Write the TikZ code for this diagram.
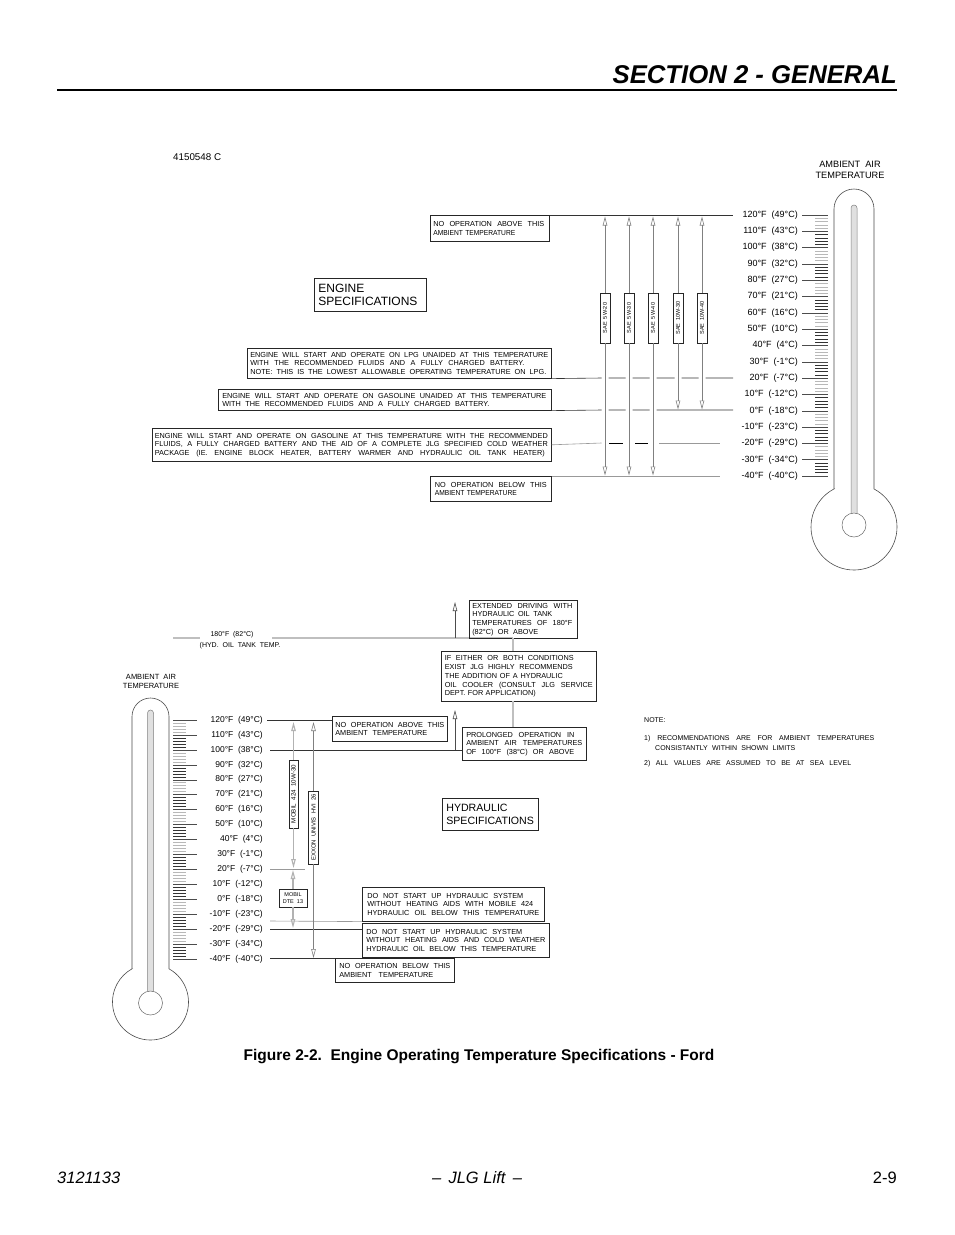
\documentclass[tikz,border=0pt]{standalone}
\usepackage{fontspec}
\setmainfont{Liberation Sans}
\usepackage{graphicx}
\usetikzlibrary{arrows.meta}
\newcommand\fl[2]{\leavevmode\setbox0=\hbox{#2}\ifdim\wd0>#1\relax\resizebox{#1}{\height}{#2}\else\hbox to #1{\spaceskip=.28em plus 1fil\relax\xspaceskip=\spaceskip #2}\fi}
\begin{document}
\begin{tikzpicture}[x=1pt,y=-1pt,
 box/.style={draw=black!85,line width=0.6pt,inner ysep=0pt,anchor=north west,align=left,font=\fontsize{7.3}{8.6}\selectfont},
 big/.style={draw=black!85,line width=0.7pt,inner ysep=0pt,anchor=north west,align=left},
 tl/.style={anchor=east,inner sep=0pt,font=\fontsize{9}{10}\selectfont},
 bl/.style={anchor=east,inner sep=0pt,font=\fontsize{8.5}{10}\selectfont},
 vlab/.style={draw=black!85,line width=0.5pt,fill=white,rotate=90,inner sep=0pt,font=\fontsize{5.5}{6}\selectfont},
 tip/.style={draw=black!50,line width=0.6pt,-{Triangle[open,length=9pt,width=4.5pt]}},
 hl/.style={draw=black!80,line width=0.6pt},
 gl/.style={draw=black!40,line width=0.6pt},
 gl2/.style={draw=black!25,line width=1.2pt},
 therm/.style={draw=black!70,line width=0.6pt},
 nt/.style={anchor=west,inner sep=0pt,font=\fontsize{7}{8}\selectfont},
 sm/.style={inner sep=0pt,font=\fontsize{7}{8}\selectfont},
]
\fill[white] (0,0) rectangle (954,1235);
\useasboundingbox (0,0) rectangle (954,1235);

% ---------- header / footer ----------
\node[anchor=east,inner sep=0pt,font=\fontsize{25.7}{27}\selectfont\bfseries\itshape] (hdr) at (897,75) {SECTION 2 - GENERAL};
\draw[line width=1.2pt] (57,90) -- (897,90);
\node[anchor=west,inner sep=0pt,font=\fontsize{16.5}{18}\selectfont\itshape] (f1) at (57,1178) {3121133};
\node[inner sep=0pt,font=\fontsize{16.5}{18}\selectfont\itshape] (f2) at (477,1178) {–\ \,JLG Lift\ \,–};
\node[anchor=east,inner sep=0pt,font=\fontsize{16.5}{18}\selectfont] (f3) at (897,1178) {2-9};
\node[inner sep=0pt,font=\fontsize{15.5}{17}\selectfont\bfseries] (cap) at (479,1057) {Figure 2-2.\ \ Engine Operating Temperature Specifications - Ford};

\node[anchor=west,inner sep=0pt,font=\fontsize{9.8}{11}\selectfont] (id) at (173,157) {4150548 C};

% ---------- top thermometer ----------
\node[align=center,inner sep=0pt,font=\fontsize{9.2}{11.5}\selectfont] (amb1) at (850,170) {AMBIENT\ \ AIR\\TEMPERATURE};
\draw[therm] (834,488.93) -- (834,209) arc[start angle=180,end angle=360,radius=20] -- (874,488.93) arc[start angle=-62.29,end angle=242.29,radius=43] -- cycle;
\filldraw[fill=black!12,draw=black!50,line width=0.5pt] (851,513.4) -- (851,208) arc[start angle=180,end angle=360,radius=3] -- (857,513.4) -- cycle;
\filldraw[fill=white,draw=black!60,line width=0.5pt] (854,525) circle[radius=12];

% ---------- bottom thermometer ----------
\node[align=center,inner sep=0pt,font=\fontsize{7.5}{9}\selectfont] (amb2) at (151,681) {AMBIENT\ \ AIR\\TEMPERATURE};
\draw[therm] (132,968.81) -- (132,716.5) arc[start angle=180,end angle=360,radius=18.5] -- (169,968.81) arc[start angle=-60.87,end angle=240.87,radius=38] -- cycle;
\filldraw[fill=black!12,draw=black!50,line width=0.5pt] (147.5,991.4) -- (147.5,713) arc[start angle=180,end angle=360,radius=3] -- (153.5,991.4) -- cycle;
\filldraw[fill=white,draw=black!60,line width=0.5pt] (150.5,1003) circle[radius=12];

% ticks
\foreach \T in {-40,-38,...,120}{
  \pgfmathtruncatemacro\band{floor((\T+39)/10)}
  \pgfmathsetmacro\yy{215+(120-\T)*1.63125}
  \pgfmathsetmacro\yb{720+(120-\T)*1.49375}
  \ifodd\band \def\cc{black!28}\else\def\cc{black!80}\fi
  \draw[\cc,line width=0.5pt] (815,\yy) -- (828,\yy);
  \draw[\cc,line width=0.5pt] (173,\yb) -- (186,\yb);
}
% labels
\foreach \T/\C [count=\i] in {120/49,110/43,100/38,90/32,80/27,70/21,60/16,50/10,40/4,30/-1,20/-7,10/-12,0/-18,-10/-23,-20/-29,-30/-34,-40/-40}{
  \pgfmathsetmacro\yy{215+(120-\T)*1.63125}
  \pgfmathsetmacro\yb{720+(120-\T)*1.49375}
  \node[tl] (ta\i) at (798,\yy) {\T°F\ \ (\C°C)};
  \draw[therm,line width=0.5pt] (ta\i.east) ++(4,0) -- (828,\yy);
  \node[bl] (tb\i) at (263,\yb) {\T°F\ \ (\C°C)};
  \draw[therm,line width=0.5pt] (173,\yb) -- (197,\yb);
}

% ---------- engine section ----------
\node[box,inner xsep=3pt,text width=113pt,minimum height=26pt] (noabove) at (430,215)
  {\fl{111pt}{NO OPERATION ABOVE THIS}\\\fl{82pt}{AMBIENT TEMPERATURE}};
\node[big,inner xsep=4pt,text width=104pt,minimum height=33pt,font=\fontsize{12}{13}\selectfont] (eng) at (314,278)
  {ENGINE\\SPECIFICATIONS};
\node[box,inner xsep=3pt,text width=298pt,minimum height=30pt] (lpg) at (247,348)
  {\fl{298pt}{ENGINE WILL START AND OPERATE ON LPG UNAIDED AT THIS TEMPERATURE}\\
   \fl{274pt}{WITH THE RECOMMENDED FLUIDS AND A FULLY CHARGED BATTERY.}\\
   \fl{296pt}{NOTE: THIS IS THE LOWEST ALLOWABLE OPERATING TEMPERATURE ON LPG.}};
\node[box,inner xsep=4pt,text width=325pt,minimum height=21pt] (gasu) at (218,389)
  {\fl{324pt}{ENGINE WILL START AND OPERATE ON GASOLINE UNAIDED AT THIS TEMPERATURE}\\
   \fl{267pt}{WITH THE RECOMMENDED FLUIDS AND A FULLY CHARGED BATTERY.}};
\node[box,inner xsep=2.5pt,text width=394pt,minimum height=33pt] (cold) at (152,428)
  {\fl{393pt}{ENGINE WILL START AND OPERATE ON GASOLINE AT THIS TEMPERATURE WITH THE RECOMMENDED}\\
   \fl{393pt}{FLUIDS, A FULLY CHARGED BATTERY AND THE AID OF A COMPLETE JLG SPECIFIED COLD WEATHER}\\
   \fl{390pt}{PACKAGE (IE. ENGINE BLOCK HEATER, BATTERY WARMER AND HYDRAULIC OIL TANK HEATER)}};
\node[box,inner xsep=4.5pt,text width=112pt,minimum height=25pt] (nobelow) at (430,476)
  {\fl{112pt}{NO OPERATION BELOW THIS}\\\fl{82pt}{AMBIENT TEMPERATURE}};

% horizontal limit lines (broken where the arrows cross)
\draw[hl] (noabove.north east) -- (733,215);
\draw[hl] (lpg.south east) -- (601.5,378) (608.5,378) -- (625.5,378) (632.5,378) -- (649.5,378)
  (656.5,378) -- (674.5,378) (681.5,378) -- (698.5,378) (705.5,378) -- (733,378);
\draw[hl] (gasu.south east) -- (601.5,410) (608.5,410) -- (625.5,410) (632.5,410) -- (649.5,410) (656.5,410) -- (733,410);
\draw[gl] (cold.east) -- (601.5,443);
\draw[black,line width=1pt] (609,443) -- (623,443) (635,443) -- (648,443);
\draw[gl] (659,443) -- (720,443);
\draw[gl] (nobelow.north east) -- (720,476);

% oil grade arrows
\foreach \x/\t/\b [count=\i] in {605/SAE\ \ 5W-20/476,629/SAE\ \ 5W-30/476,653/SAE\ \ 5W-40/476,678/SAE\ \ 10W-30/410,702/SAE\ \ 10W-40/410}{
  \node[vlab,minimum width=50pt,minimum height=10pt] (sae\i) at (\x,318) {\t};
  \draw[tip] (sae\i.east) -- (\x,216.5);
  \draw[tip] (sae\i.west) -- (\x,\b-0.5);
}

% ---------- hydraulic section ----------
\draw[gl2] (173,638) -- (200,638);
\node[sm] (h1) at (232,635) {180°F\ \ (82°C)};
\node[sm] (h2) at (240,646) {(HYD.\ \ OIL\ \ TANK\ \ TEMP.};
\draw[gl2] (272,638) -- (513,638);
\node[box,inner xsep=3pt,text width=102pt,minimum height=38pt] (ext) at (469,600)
  {\fl{100pt}{EXTENDED DRIVING WITH}\\\fl{80pt}{HYDRAULIC OIL TANK}\\\fl{100pt}{TEMPERATURES OF 180°F}\\\fl{66pt}{(82°C) OR ABOVE}};
\draw[tip,draw=black!70] (455,638) -- (455,602);
\node[box,inner xsep=3.5pt,text width=148pt,minimum height=50pt,font=\fontsize{7.3}{8.9}\selectfont] (ife) at (441,651)
  {\fl{129pt}{IF EITHER OR BOTH CONDITIONS}\\\fl{128pt}{EXIST JLG HIGHLY RECOMMENDS}\\\fl{118pt}{THE ADDITION OF A HYDRAULIC}\\\fl{148pt}{OIL COOLER (CONSULT JLG SERVICE}\\\fl{91pt}{DEPT. FOR APPLICATION)}};
\draw[gl2] (513,638) -- (513,651);
\node[box,inner xsep=4pt,text width=116pt,minimum height=33pt] (prol) at (462,727)
  {\fl{108pt}{PROLONGED OPERATION IN}\\\fl{116pt}{AMBIENT AIR TEMPERATURES}\\\fl{108pt}{OF 100°F (38°C) OR ABOVE}};
\draw[gl2] (513,701) -- (513,727);
\node[box,inner xsep=3pt,text width=109pt,minimum height=25pt] (noab2) at (332,716)
  {\fl{109pt}{NO OPERATION ABOVE THIS}\\\fl{92pt}{AMBIENT TEMPERATURE}};
\draw[hl] (267,720) -- (332,720);
\draw[hl] (270,750) -- (prol.west |- 0,750);
\draw[tip,draw=black!70] (455,750) -- (455,710);
\node[big,inner xsep=4pt,text width=88pt,minimum height=32pt,font=\fontsize{10.6}{12.5}\selectfont] (hsp) at (442,798)
  {HYDRAULIC\\SPECIFICATIONS};
\node[box,inner xsep=5pt,text width=172pt,minimum height=34pt] (dns1) at (362,887)
  {\fl{156pt}{DO NOT START UP HYDRAULIC SYSTEM}\\\fl{166pt}{WITHOUT HEATING AIDS WITH MOBILE 424}\\\fl{172pt}{HYDRAULIC OIL BELOW THIS TEMPERATURE}};
\node[box,inner xsep=4pt,text width=179pt,minimum height=34pt] (dns2) at (362,923)
  {\fl{156pt}{DO NOT START UP HYDRAULIC SYSTEM}\\\fl{179pt}{WITHOUT HEATING AIDS AND COLD WEATHER}\\\fl{170pt}{HYDRAULIC OIL BELOW THIS TEMPERATURE}};
\node[box,inner xsep=4pt,text width=111pt,minimum height=24pt] (nobe2) at (335,958)
  {\fl{111pt}{NO OPERATION BELOW THIS}\\\fl{94pt}{AMBIENT TEMPERATURE}};
\draw[gl] (270,869) -- (305,869);
\draw[gl] (270,921) -- (dns1.south west);
\draw[hl] (270,929) -- (362,929);
\draw[hl] (270,958) -- (nobe2.north west);

% hydraulic oil arrows
\node[vlab,minimum width=68pt,minimum height=9pt,font=\fontsize{6.2}{7}\selectfont] (m424) at (293.5,794) {MOBIL\ \ 424\ \ 10W-30};
\node[vlab,minimum width=73pt,minimum height=10pt,font=\fontsize{5.9}{7}\selectfont] (exx) at (313.5,827.5) {EXXON\ \ UNIVIS\ \ HVI\ \ 26};
\node[draw=black!85,line width=0.5pt,fill=white,inner sep=0pt,minimum width=28pt,minimum height=18pt,align=center,font=\fontsize{5.5}{7}\selectfont] (dte) at (293,898) {MOBIL\\DTE\ \ 13};
\draw[tip,draw=black!30,line width=1.1pt] (m424.east) -- (293.5,722);
\draw[tip,draw=black!30,line width=1.1pt] (m424.west) -- (293.5,868);
\draw[tip] (exx.east) -- (313.5,722);
\draw[tip] (exx.west) -- (313.5,958);
\draw[tip,draw=black!30,line width=1.1pt] (dte.north) -- (293,870);
\draw[tip,draw=black!30,line width=1.1pt] (dte.south) -- (293,928);

% notes
\node[nt] (n0) at (644,720) {NOTE:};
\node[nt] (n1) at (644,739) {\fl{230pt}{1) RECOMMENDATIONS ARE FOR AMBIENT TEMPERATURES}};
\node[nt] (n2) at (655,748) {\fl{140pt}{CONSISTANTLY WITHIN SHOWN LIMITS}};
\node[nt] (n3) at (644,764) {\fl{207pt}{2) ALL VALUES ARE ASSUMED TO BE AT SEA LEVEL}};
\end{tikzpicture}
\end{document}
